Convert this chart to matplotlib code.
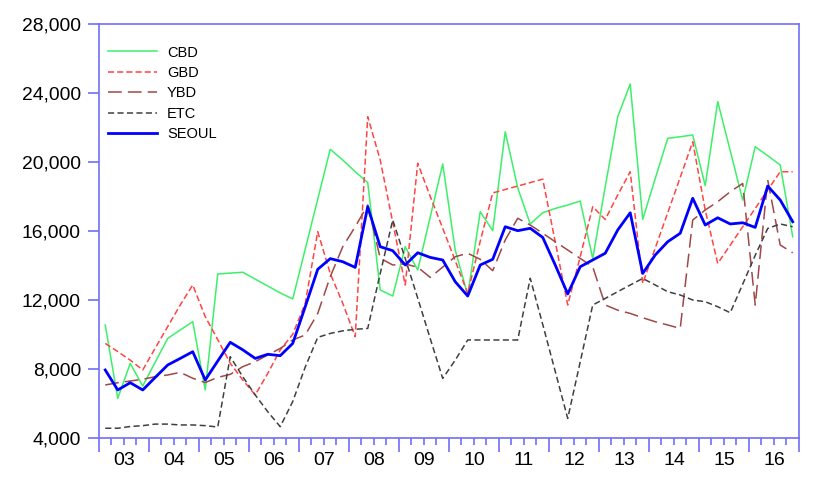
import matplotlib
matplotlib.use("Agg")
import matplotlib.pyplot as plt
from matplotlib.ticker import FuncFormatter

plt.rcParams['font.family'] = ['Liberation Sans', 'DejaVu Sans']

years = ["03", "04", "05", "06", "07", "08", "09", "10", "11", "12", "13", "14", "15", "16"]

cbd = [10540, 6280, 8310, 7000, 8390, 9760, 10250, 10730,
       6770, 13500, 13550, 13600, 13200, 12800, 12400, 12050,
       14940, 17840, 20730, 20110, 19430, 18800, 12570, 12220,
       15080, 13730, 16800, 19880, 14890, 12280, 17110, 16010,
       21750, 18500, 16400, 17050, 17300, 17500, 17730, 14400,
       18560, 22620, 24520, 16670, 19030, 21370, 21460, 21560,
       18620, 23500, 20650, 17790, 20880, 20360, 19820, 15660]

gbd = [9470, 9000, 8500, 7930, 9200, 10450, 11700, 12860,
       11020, 9690, 8320, 7350, 6480, 7730, 9090, 10000,
       11800, 15950, 13530, 11800, 9860, 22620, 20110, 16500,
       12860, 19920, 18000, 16150, 14270, 12370, 15400, 18200,
       18400, 18600, 18800, 19000, 15370, 11700, 14500, 17400,
       16660, 18080, 19430, 12950, 15000, 17050, 19100, 21170,
       17210, 14110, 15170, 16240, 17300, 18370, 19430, 19430]

ybd = [7060, 7190, 7290, 7390, 7540, 7640, 7790, 7450,
       7200, 7500, 7675, 8120, 8410, 8800, 9180, 9670,
       9960, 11210, 13340, 15080, 16240, 17500, 14410, 14020,
       14080, 13890, 13300, 13900, 14500, 14700, 14350, 13690,
       15470, 16730, 16340, 15860, 15370, 14890, 14400, 13920,
       11700, 11400, 11210, 10960, 10730, 10540, 10340, 16630,
       17210, 17690, 18270, 18750, 11700, 18950, 15180, 14730]

etc = [4550, 4550, 4650, 4700, 4790, 4790, 4740, 4740,
       4700, 4620, 8700, 7540, 6480, 5510, 4640, 6100,
       8100, 9820, 10050, 10200, 10290, 10340, 13530, 16630,
       14400, 12100, 9750, 7440, 8500, 9670, 9670, 9670,
       9670, 9670, 13250, 10570, 7850, 5120, 8400, 11700,
       12080, 12470, 12860, 13240, 12860, 12470, 12280, 11990,
       11890, 11600, 11250, 12910, 14580, 16140, 16400, 16240]

seoul = [7930, 6770, 7190, 6770, 7500, 8220, 8600, 8990,
         7350, 8450, 9535, 9100, 8600, 8840, 8760, 9470,
         11600, 13770, 14390, 14210, 13880, 17400, 15080, 14850,
         14020, 14730, 14460, 14310, 13050, 12220, 14020, 14350,
         16240, 16010, 16150, 15620, 14020, 12340, 13920, 14310,
         14700, 16050, 17050, 13530, 14600, 15370, 15860, 17890,
         16340, 16760, 16400, 16470, 16200, 18600, 17790, 16530]

x = list(range(len(seoul)))

fig = plt.figure(figsize=(8.27, 4.90), dpi=100)
ax = fig.add_axes([0.1197, 0.1067, 0.8464, 0.8443])

ax.plot(x, cbd, color='#3CF06A', lw=1.1, label='CBD')
ax.plot(x, gbd, color='#FF4444', lw=1.1, dashes=(4, 2), label='GBD')
ax.plot(x, ybd, color='#A04848', lw=1.1, dashes=(9, 4), label='YBD')
ax.plot(x, etc, color='#404040', lw=1.1, dashes=(4, 2.2), label='ETC')
ax.plot(x, seoul, color='#0000FF', lw=2.0, label='SEOUL')

ax.set_xlim(-0.5, len(seoul) - 0.5)
ax.set_ylim(4000, 28000)
ax.set_yticks(range(4000, 28001, 4000))
ax.yaxis.set_major_formatter(FuncFormatter(lambda v, p: f"{int(v):,}"))

spine_col = '#7070F8'
for s in ax.spines.values():
    s.set_color(spine_col)
    s.set_linewidth(1.2)

ax.set_xticks([-0.5 + 4 * k for k in range(len(years) + 1)])
ax.set_xticklabels([])
ax.set_xticks([-0.5 + k for k in range(len(seoul) + 1)], minor=True)
ax.tick_params(axis='x', which='major', direction='out', length=10, width=1.2, color=spine_col)
ax.tick_params(axis='x', which='minor', direction='out', length=5, width=1.2, color=spine_col)
ax.tick_params(axis='y', which='major', direction='out', length=8, width=1.2, color=spine_col,
               labelsize=13.9, pad=5)
ax.tick_params(axis='y', which='minor', left=False)

for k, lab in enumerate(years):
    ax.text(1.5 + 4 * k, -0.056, lab, transform=ax.get_xaxis_transform(),
            ha='center', va='center', fontsize=14)

leg = ax.legend(loc='upper left', frameon=False, fontsize=10.5, handlelength=3.36,
                handletextpad=0.68, labelspacing=0.44, borderaxespad=0.0, borderpad=0.0,
                bbox_to_anchor=(0.013, 0.948))

fig.savefig('out.png', dpi=100)
